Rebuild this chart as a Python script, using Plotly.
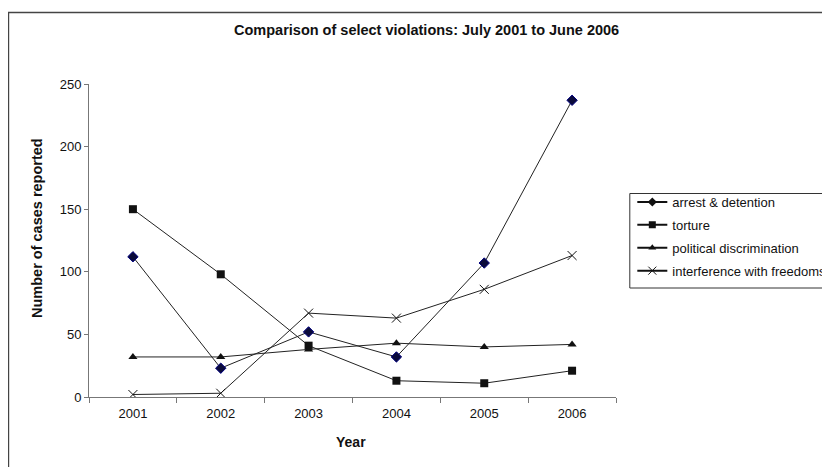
import plotly.graph_objects as go

years = ["2001", "2002", "2003", "2004", "2005", "2006"]
arrest = [112, 23, 52, 32, 107, 237]
torture = [150, 98, 41, 13, 11, 21]
political = [32, 32, 38, 43, 40, 42]
interference = [2, 3, 67, 63, 86, 113]
y_ticks = [0, 50, 100, 150, 200, 250]

FONT = "Arial, Liberation Sans, sans-serif"

# page body has an 8px margin; work in screen coordinates and convert
OFF = 8
W, H = 830 - OFF, 467 - OFF
PL, PR, PT, PB = 89, 615.7, 84, 397          # plot area in screen px
L, T = PL - OFF, PT - OFF
R, B = W - (PR - OFF), H - (PB - OFF)
pw, ph = W - L - R, H - T - B

def px(sx):
    return ((sx - OFF) - L) / pw

def py(sy):
    return (H - B - (sy - OFF)) / ph

fig = go.Figure()
series = [
    ("arrest & detention", arrest,
     dict(symbol="diamond", size=8, color="#0a0a3a", line=dict(color="#000080", width=1))),
    ("torture", torture,
     dict(symbol="square", size=8, color="#111111", line=dict(color="#111111", width=0))),
    ("political discrimination", political,
     dict(symbol="triangle-up", size=8, color="#111111", line=dict(color="#111111", width=0))),
    ("interference with freedoms", interference,
     dict(symbol="x-thin-open", size=9, color="#111111", line=dict(color="#111111", width=1))),
]
for i, (name, vals, mk) in enumerate(series):
    fig.add_trace(go.Scatter(
        x=years, y=vals, name=name, mode="lines+markers",
        line=dict(color="#222222", width=1),
        marker=mk, showlegend=False,
    ))
# legend entries (thicker line like the original legend keys)
for i, (name, vals, mk) in enumerate(series):
    lmk = dict(mk)
    lmk["size"] = mk["size"] - 1
    if name.startswith("arrest"):
        lmk["color"] = "#111111"
        lmk["line"] = dict(color="#111111", width=0)
    fig.add_trace(go.Scatter(
        x=[None], y=[None], name=name, mode="lines+markers",
        line=dict(color="#111111", width=2),
        marker=lmk, legendgroup=f"g{i}", showlegend=True,
    ))

fig.update_layout(
    width=W, height=H,
    margin=dict(l=L, r=R, t=T, b=B, autoexpand=False),
    paper_bgcolor="white", plot_bgcolor="white",
    font=dict(family=FONT, size=13, color="#111111"),
    showlegend=True,
    legend=dict(
        x=px(632), y=py(187), xanchor="left", yanchor="top",
        borderwidth=0, bgcolor="rgba(0,0,0,0)",
        font=dict(family=FONT, size=13, color="#111111"),
        tracegroupgap=3, itemwidth=30,
    ),
    xaxis=dict(
        type="category", range=[-0.5, 5.5], tickson="boundaries",
        ticks="outside", ticklen=5,
        tickcolor="#777777", showline=True, linecolor="#777777", linewidth=1,
        showgrid=False, zeroline=False, ticklabelstandoff=4,
        tickfont=dict(family=FONT, size=13, color="#111111"),
    ),
    yaxis=dict(
        range=[0, 250], tickvals=y_ticks, ticks="outside", ticklen=4,
        tickcolor="#777777", showline=True, linecolor="#777777", linewidth=1,
        showgrid=False, zeroline=False,
        tickfont=dict(family=FONT, size=13, color="#111111"),
    ),
    shapes=[
        dict(type="rect", xref="paper", yref="paper",
             x0=px(8.5), x1=px(900), y0=py(520), y1=py(12.5),
             line=dict(color="#444444", width=1.5), layer="below"),
        dict(type="rect", xref="paper", yref="paper",
             x0=px(629.5), x1=px(900), y0=py(288), y1=py(193.5),
             line=dict(color="#333333", width=1), fillcolor="white", layer="below"),
    ],
    annotations=[
        dict(text="<b>Comparison of select violations: July 2001 to June 2006</b>",
             xref="paper", yref="paper", x=px(426), y=py(30),
             xanchor="center", yanchor="middle", showarrow=False,
             font=dict(family=FONT, size=14.5, color="#111111")),
        dict(text="<b>Number of cases reported</b>",
             xref="paper", yref="paper", x=px(37), y=py(228),
             xanchor="center", yanchor="middle", showarrow=False, textangle=-90,
             font=dict(family=FONT, size=14.5, color="#111111")),
        dict(text="<b>Year</b>",
             xref="paper", yref="paper", x=px(351), y=py(442),
             xanchor="center", yanchor="middle", showarrow=False,
             font=dict(family=FONT, size=14, color="#111111")),
    ],
)

fig.write_html("out.html")
